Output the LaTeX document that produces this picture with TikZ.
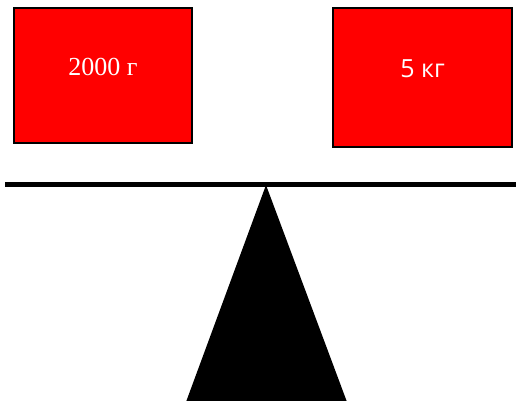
\documentclass[tikz,border=0pt]{standalone}
\usepackage{fontspec}
\setmainfont{Liberation Serif}
\newfontfamily\rsans{Open Sans}
\begin{document}
\begin{tikzpicture}[x=1pt,y=-1pt,
  weight/.style={draw=black,line width=2pt,fill=red,inner sep=0pt},
  label/.style={text=white,inner sep=0pt,anchor=base,font=\fontsize{26}{30}\selectfont}]
\useasboundingbox (0,0) rectangle (516,401);
\node[weight,minimum width=178pt,minimum height=134pt] (left) at (103,75.5) {};
\node[label] (lefttext) at (103,75.5) {2000 г};
\node[weight,minimum width=179pt,minimum height=139pt] (right) at (422.5,77.5) {};
\node[label,font=\rsans\fontsize{25}{30}\selectfont] (righttext) at (422.5,77.5) {5 кг};
\coordinate (bl) at (5,184.5);
\coordinate (br) at (516,184.5);
\draw[line width=5pt] (bl) -- (br);
\coordinate (apex) at (266,185);
\coordinate (baseL) at (186,402);
\coordinate (baseR) at (347,402);
\fill[black] (apex) -- (baseR) -- (baseL) -- cycle;
\end{tikzpicture}
\end{document}
